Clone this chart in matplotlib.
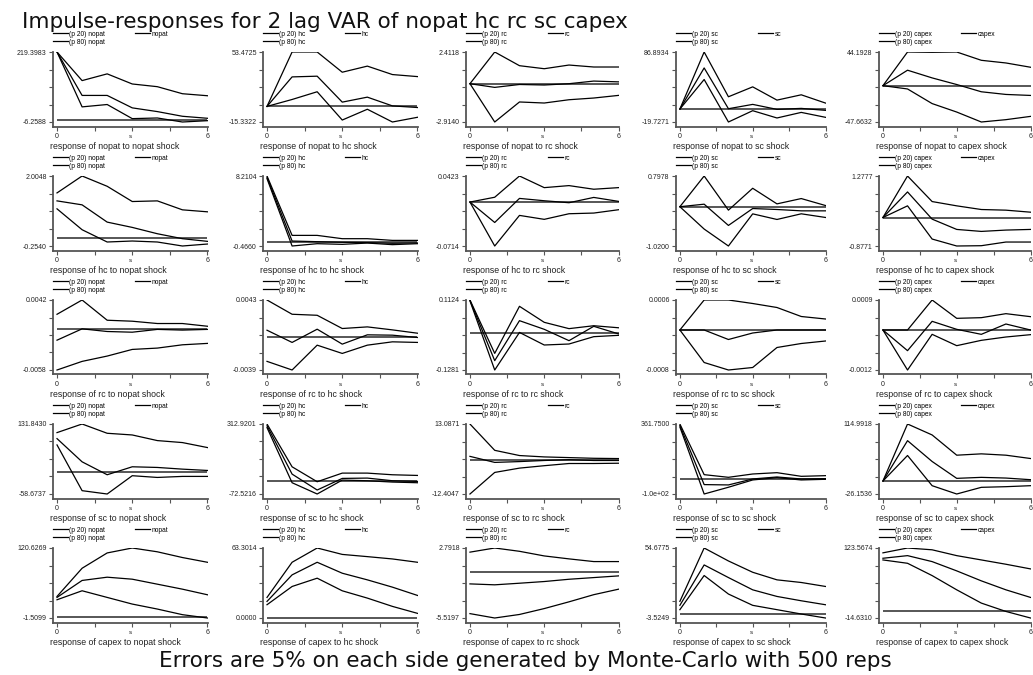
import matplotlib
matplotlib.use('Agg')
import matplotlib.pyplot as plt
import numpy as np

plt.rcParams['font.family'] = ['Liberation Sans', 'DejaVu Sans']

variables = ['nopat', 'hc', 'rc', 'sc', 'capex']
steps = [0, 1, 2, 3, 4, 5, 6]

# y axis end labels, row = responding variable, column = shock
top_labels = [
    ['219.3983', '53.4725', '2.4118', '86.8934', '44.1928'],
    ['2.0048', '8.2104', '0.0423', '0.7978', '1.2777'],
    ['0.0042', '0.0043', '0.1124', '0.0006', '0.0009'],
    ['131.8430', '312.9201', '13.0871', '361.7500', '114.9918'],
    ['120.6269', '63.3014', '2.7918', '54.6775', '123.5674'],
]
bottom_labels = [
    ['-6.2588', '-15.3322', '-2.9140', '-19.7271', '-47.6632'],
    ['-0.2540', '-0.4660', '-0.0714', '-1.0200', '-0.8771'],
    ['-0.0058', '-0.0039', '-0.1281', '-0.0008', '-0.0012'],
    ['-58.6737', '-72.5216', '-12.4047', '-1.0e+02', '-26.1536'],
    ['-1.5099', '0.0000', '-5.5197', '-3.5249', '-14.6310'],
]

# response of nopat to shocks in nopat, hc, rc, sc, capex
nopat_p20 = [
    [219.3983, 42.5, 50.1, 4.6, 6.7, -6.2588, -2.0],
    [0, 6.8, 14.4, -13.4, -2.8, -15.3322, -10.7],
    [0, -2.914, -1.39, -1.47, -1.22, -1.09, -0.89],
    [0, 45.0, -19.7271, -2.5, -13.6, -5.1, -12.6],
    [0, -4.3, -23.5, -34.6, -47.6632, -44.6, -40.3],
]
nopat_irf = [
    [219.3983, 79.4, 79.4, 39.3, 27.3, 12.2, 5.7],
    [0, 29.0, 29.7, 4.2, 9.1, 0.5, -1.1],
    [0, -0.28, -0.06, -0.10, 0.0, 0.20, 0.14],
    [0, 62.6, 0.5, 7.1, -0.5, 1.0, -2.0],
    [0, 20.3, 10.2, 1.5, -8.0, -11.5, -12.8],
]
nopat_p80 = [
    [219.3983, 127.2, 148.9, 116.3, 107.6, 84.9, 78.4],
    [0, 53.4725, 53.4725, 33.6, 39.6, 31.3, 29.3],
    [0, 2.4118, 1.37, 1.14, 1.42, 1.27, 1.27],
    [0, 86.8934, 18.7, 33.8, 13.6, 21.7, 9.1],
    [0, 44.1928, 43.8, 44.1928, 33.3, 29.8, 24.2],
]

# response of hc
hc_p20 = [
    [0.945, 0.271, -0.125, -0.093, -0.125, -0.254, -0.19],
    [7.88, -0.466, -0.18, -0.26, -0.10, -0.30, -0.18],
    [0, -0.0714, -0.0217, -0.0281, -0.0190, -0.0179, -0.0125],
    [0, -0.580, -1.020, -0.185, -0.331, -0.184, -0.279],
    [0, 0.359, -0.663, -0.8771, -0.868, -0.755, -0.755],
]
hc_irf = [
    [1.202, 1.074, 0.517, 0.346, 0.142, -0.018, -0.104],
    [8.05, 0.15, 0.07, -0.01, -0.05, -0.13, -0.09],
    [0, -0.0332, 0.0059, 0.0021, -0.0011, 0.0075, 0.0011],
    [0, 0.066, -0.486, -0.047, -0.072, -0.107, -0.107],
    [0, 0.787, -0.050, -0.367, -0.428, -0.387, -0.367],
]
hc_p80 = [
    [1.459, 2.0048, 1.673, 1.181, 1.202, 0.913, 0.849],
    [8.2104, 0.85, 0.85, 0.44, 0.44, 0.23, 0.23],
    [0, 0.0078, 0.0423, 0.0234, 0.0267, 0.0208, 0.0234],
    [0, 0.7978, -0.089, 0.479, 0.074, 0.212, 0.031],
    [0, 1.2777, 0.491, 0.359, 0.246, 0.226, 0.164],
]

# response of rc
rc_p20 = [
    [-0.0058, -0.00457, -0.00381, -0.00286, -0.00267, -0.0022, -0.0020],
    [-0.00289, -0.0039, -0.00099, -0.00196, -0.00099, -0.0006, -0.00067],
    [0.1095, -0.1281, 0.0010, -0.0422, -0.0388, -0.0136, -0.009],
    [0, -0.00065, -0.0008, -0.00075, -0.00035, -0.00027, -0.00022],
    [0, -0.0012, -0.00013, -0.00047, -0.00031, -0.00021, -0.00014],
]
rc_irf = [
    [-0.00154, 0.00008, -0.0003, -0.0004, 0.0, -0.0001, 0.0],
    [0.00076, -0.00067, 0.00088, -0.00087, 0.00022, 0.00018, -0.00009],
    [0.1110, -0.096, 0.0414, 0.0117, -0.0273, 0.022, -0.004],
    [0, 0.0, -0.00019, -0.00006, 0.0, 0.0, 0.0],
    [0, -0.00062, 0.00026, 0.00002, -0.00013, 0.00018, 0.0],
]
rc_p80 = [
    [0.00216, 0.0042, 0.00131, 0.00117, 0.00084, 0.00084, 0.00045],
    [0.0043, 0.00263, 0.00251, 0.00096, 0.00115, 0.0008, 0.00041],
    [0.1124, -0.071, 0.0907, 0.0357, 0.014, 0.024, 0.017],
    [0, 0.0006, 0.0006, 0.00053, 0.00045, 0.00027, 0.00022],
    [0, 0.0, 0.0009, 0.00035, 0.00037, 0.00049, 0.0004],
]

# response of sc
sc_p20 = [
    [74.9, -49.6, -58.6737, -8.9, -13.6, -10.8, -10.8],
    [293.0, -10.5, -72.5216, 4.2, 0.5, -6.8, -10.5],
    [-12.4047, -4.55, -2.98, -2.1, -1.3, -1.3, -1.2],
    [342.0, -100.0, -55.5, -7.4, 8.0, -7.4, -3.0],
    [0, 51.5, -9.4, -26.1536, -12.7, -11.4, -9.4],
]
sc_irf = [
    [92.1, 28.9, -6.3, 15.4, 13.6, 9.0, 5.4],
    [303.0, 37.0, -50.6, 13.3, 15.1, 0.5, -3.2],
    [1.3, -0.9, -0.6, -0.2, 0.1, -0.2, -0.2],
    [352.0, -38.0, -40.2, -0.8, 12.3, -0.8, 1.4],
    [0, 81.4, 39.4, 5.4, 7.4, 6.0, 2.7],
]
sc_p80 = [
    [108.4, 131.843, 106.6, 102.0, 86.7, 81.3, 67.7],
    [312.9201, 77.2, -5.0, 42.5, 42.5, 33.4, 29.7],
    [13.0871, 3.5, 1.6, 1.1, 0.85, 0.6, 0.5],
    [361.75, 27.6, 10.1, 32.0, 40.7, 16.6, 21.0],
    [0, 114.9918, 92.9, 52.1, 54.8, 52.1, 45.4],
]

# response of capex
capex_p20 = [
    [30.3, 46.0, 34.4, 22.8, 14.1, 4.3, -1.5099],
    [12.0, 28.5, 36.0, 24.6, 18.0, 10.5, 4.2],
    [-5.0, -5.5197, -5.1, -4.4, -3.6, -2.75, -2.1],
    [3.4, 31.8, 16.4, 7.0, 3.4, -0.2, -3.5249],
    [100.0, 93.4, 69.1, 41.0, 14.8, -1.7, -14.631],
]
capex_irf = [
    [34.4, 64.0, 69.7, 66.2, 57.5, 48.8, 39.0],
    [15.0, 39.0, 50.4, 40.5, 34.5, 27.9, 20.4],
    [-1.47, -1.58, -1.39, -1.19, -0.92, -0.72, -0.52],
    [7.0, 40.6, 30.1, 19.9, 14.4, 10.8, 7.5],
    [103.3, 108.5, 96.7, 78.4, 58.7, 41.0, 26.0],
]
capex_p80 = [
    [36.1, 85.3, 112.0, 120.6269, 114.0, 104.0, 95.7],
    [18.6, 50.4, 63.3014, 57.5, 55.5, 53.4, 50.4],
    [2.3, 2.7918, 2.4, 1.85, 1.5, 1.18, 1.18],
    [10.3, 54.6775, 43.9, 34.5, 28.2, 26.0, 22.7],
    [114.0, 123.5674, 120.0, 108.5, 100.0, 91.5, 82.3],
]

p20 = [nopat_p20, hc_p20, rc_p20, sc_p20, capex_p20]
irf = [nopat_irf, hc_irf, rc_irf, sc_irf, capex_irf]
p80 = [nopat_p80, hc_p80, rc_p80, sc_p80, capex_p80]

W, H = 1033, 675
fig = plt.figure(figsize=(W / 100, H / 100), dpi=100)

# panel geometry in pixels
col_left = [53, 263, 466, 676, 879]
col_right = [208, 418, 619, 826, 1031]
row_top0, row_step, plot_h, axis_pad = 52, 124, 70, 4.5

axis_col = '#555555'
leg_kw = dict(frameon=False, borderaxespad=0, borderpad=0, fontsize=4.8,
              handlelength=2.2, handletextpad=0.25, labelspacing=0.15)

for r in range(5):
    top = row_top0 + row_step * r
    bottom = top + plot_h + axis_pad
    for c in range(5):
        L, R = col_left[c], col_right[c]
        h = bottom - top
        ax = fig.add_axes([L / W, 1 - bottom / H, (R - L) / W, h / H])
        ymax = float(top_labels[r][c])
        ymin = float(bottom_labels[r][c])
        rng = ymax - ymin
        ax.set_ylim(ymin - rng * axis_pad / plot_h, ymax)
        ax.set_xlim(-0.16, 6.02)

        ax.hlines(0, steps[0], steps[-1], color='#3a3a3a', lw=1.2, zorder=2)
        h20, = ax.plot(steps, p20[r][c], color='black', lw=0.9, zorder=3)
        hirf, = ax.plot(steps, irf[r][c], color='black', lw=0.9, zorder=3)
        h80, = ax.plot(steps, p80[r][c], color='black', lw=0.9, zorder=3)

        for s in ['top', 'right']:
            ax.spines[s].set_visible(False)
        for s in ['left', 'bottom']:
            ax.spines[s].set_color(axis_col)
            ax.spines[s].set_linewidth(1.3)

        ax.set_yticks(np.linspace(ymin, ymax, 5))
        ax.set_yticklabels([bottom_labels[r][c], '', '', '', top_labels[r][c]])
        ax.set_xticks([0, 1.5, 3, 4.5, 6])
        ax.set_xticklabels(['0', '', '', '', '6'])
        ax.tick_params(direction='out', length=3, width=0.8, color=axis_col,
                       labelsize=5, pad=1.5, labelcolor='#222222')

        v = variables[c]
        # legend in two fixed columns, as in the original
        leg1 = ax.legend([h20, h80], ['(p 20) ' + v, '(p 80) ' + v],
                         loc='lower left', bbox_to_anchor=(0, 1 + 6.5 / h), **leg_kw)
        ax.add_artist(leg1)
        ax.legend([hirf], [v], loc='lower left',
                  bbox_to_anchor=(82 / (R - L), 1 + 14.5 / h), **leg_kw)

        fig.text((L + R) / 2 / W, 1 - (bottom + 10) / H, 's',
                 fontsize=4.5, ha='center', va='center', color='#222222')
        fig.text((L - 3) / W, 1 - (bottom + 20) / H,
                 'response of %s to %s shock' % (variables[r], v),
                 fontsize=6.3, ha='left', va='center', color='#222222')

fig.text(22 / W, 1 - 22 / H,
         'Impulse-responses for 2 lag VAR of nopat hc rc sc capex',
         fontsize=15.5, ha='left', va='center', color='#111111',
         family='DejaVu Sans')
fig.text(525 / W, 1 - 661 / H,
         'Errors are 5% on each side generated by Monte-Carlo with 500 reps',
         fontsize=15.5, ha='center', va='center', color='#111111',
         family='DejaVu Sans')

fig.savefig('out.png', dpi=100)
